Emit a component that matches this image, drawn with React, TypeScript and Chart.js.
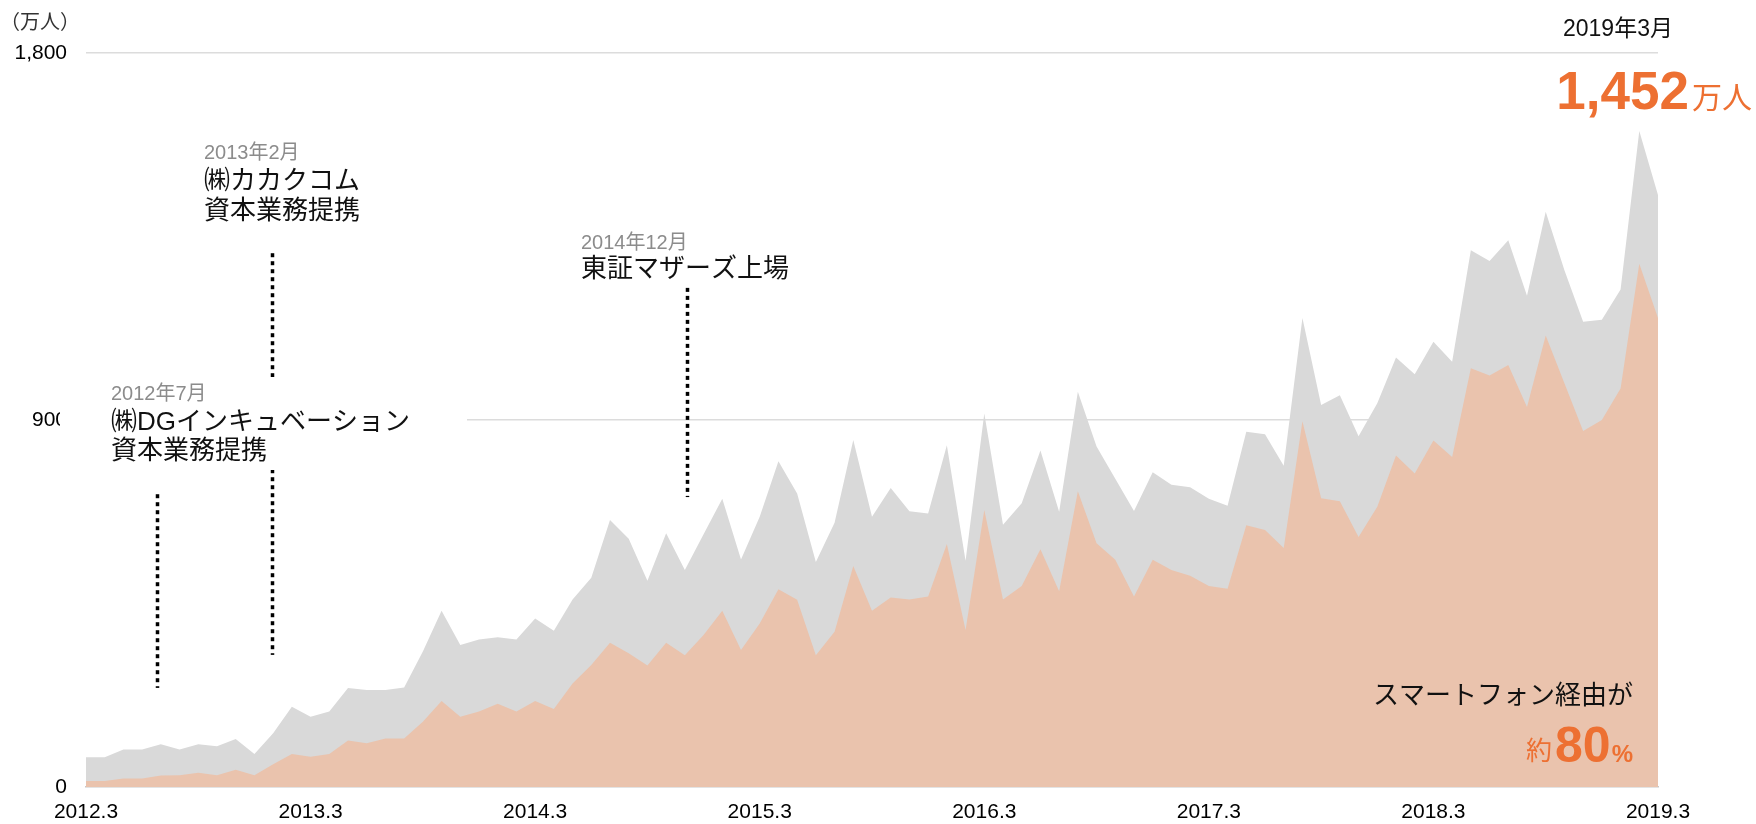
import React, { useEffect, useRef } from "react";
import { Chart, registerables } from "chart.js";

Chart.register(...registerables);

// ---------- data ----------
const FIRST_YEAR = 2012;
const FIRST_MONTH = 3;
const MONTH_COUNT = 85; // 2012.3 .. 2019.3

const months: string[] = [];
for (let i = 0; i < MONTH_COUNT; i++) {
  const m = FIRST_MONTH - 1 + i;
  months.push(`${FIRST_YEAR + Math.floor(m / 12)}.${(m % 12) + 1}`);
}

const tickLabels = ["2012.3", "2013.3", "2014.3", "2015.3", "2016.3", "2017.3", "2018.3", "2019.3"];
const yTicks = [0, 900, 1800];

// total monthly users (万人)
const totalUsers = [
  73, 73, 92, 92, 105, 92, 105, 100, 118, 81, 132, 197,
  172, 185, 243, 238, 238, 244, 332, 432, 348, 362, 367, 362,
  413, 383, 460, 513, 655, 609, 506, 622, 532, 620, 707, 558,
  663, 799, 720, 552, 648, 851, 663, 733, 676, 671, 838, 555,
  916, 643, 696, 825, 675, 969, 835, 756, 677, 772, 741, 735,
  707, 690, 871, 865, 788, 1150, 937, 961, 860, 941, 1053, 1012,
  1092, 1043, 1316, 1290, 1341, 1205, 1411, 1267, 1141, 1146, 1220, 1609,
  1452,
];

// users via smartphone (万人)
const smartphoneUsers = [
  15, 15, 21, 21, 28, 29, 35, 29, 42, 29, 56, 81,
  74, 81, 114, 107, 119, 119, 160, 211, 172, 185, 204, 185,
  211, 191, 254, 299, 354, 328, 298, 354, 323, 373, 432, 336,
  401, 485, 459, 323, 381, 542, 432, 465, 460, 467, 596, 385,
  679, 460, 493, 583, 480, 725, 598, 557, 467, 557, 532, 518,
  493, 486, 642, 630, 586, 897, 708, 701, 613, 687, 813, 769,
  850, 809, 1027, 1009, 1035, 932, 1107, 990, 873, 900, 977, 1283,
  1150,
];

// event markers (month index, value range of the dotted line)
const eventLines = [
  { month: 3.79, from: 243, to: 718 },
  { month: 9.92, from: 324, to: 1309 },
  { month: 32.1, from: 711, to: 1224 },
];

// ---------- styles ----------
const FAMILY = '"Liberation Sans", Arial, "Noto Sans CJK JP", sans-serif';
const ORANGE = "#ed7032";
const GRAY_TEXT = "#8c8c8c";
const BLACK = "#111111";

type Line = { y: number; text: string; size: number; color: string };
const textBlocks: { x: number; lines: Line[] }[] = [
  {
    x: 204,
    lines: [
      { y: 153, text: "2013年2月", size: 20, color: GRAY_TEXT },
      { y: 182, text: "㈱カカクコム", size: 26, color: BLACK },
      { y: 212, text: "資本業務提携", size: 26, color: BLACK },
    ],
  },
  {
    x: 111,
    lines: [
      { y: 394, text: "2012年7月", size: 20, color: GRAY_TEXT },
      { y: 423, text: "㈱DGインキュベーション", size: 26, color: BLACK },
      { y: 452, text: "資本業務提携", size: 26, color: BLACK },
    ],
  },
  {
    x: 581,
    lines: [
      { y: 243, text: "2014年12月", size: 20, color: GRAY_TEXT },
      { y: 270, text: "東証マザーズ上場", size: 26, color: BLACK },
    ],
  },
];

const annotationPlugin = {
  id: "annotations",
  afterDraw(chart: any) {
    const ctx: CanvasRenderingContext2D = chart.ctx;
    const xs = chart.scales.x;
    const ys = chart.scales.y;
    ctx.save();

    // dotted event lines
    ctx.strokeStyle = "#000";
    ctx.lineWidth = 3.5;
    ctx.setLineDash([4, 4]);
    ctx.lineCap = "butt";
    for (const l of eventLines) {
      const x = Math.round(xs.getPixelForValue(l.month)) + 0.5;
      ctx.beginPath();
      ctx.moveTo(x, ys.getPixelForValue(l.to));
      ctx.lineTo(x, ys.getPixelForValue(l.from));
      ctx.stroke();
    }
    ctx.setLineDash([]);

    // white backing of the DG annotation
    ctx.fillStyle = "#ffffff";
    ctx.fillRect(60, 377, 407, 93);

    ctx.textAlign = "left";
    ctx.textBaseline = "middle";
    for (const b of textBlocks) {
      for (const ln of b.lines) {
        ctx.font = `${ln.size}px ${FAMILY}`;
        ctx.fillStyle = ln.color;
        ctx.fillText(ln.text, b.x, ln.y);
      }
    }

    // unit
    ctx.font = `20px ${FAMILY}`;
    ctx.fillStyle = "#333";
    ctx.fillText("（万人）", 0, 23);

    // latest value
    ctx.font = `23px ${FAMILY}`;
    ctx.fillStyle = BLACK;
    ctx.fillText("2019年3月", 1563, 30);

    ctx.textBaseline = "alphabetic";
    ctx.textAlign = "right";
    ctx.font = `30px ${FAMILY}`;
    ctx.fillStyle = ORANGE;
    ctx.fillText("万人", 1752, 108);
    const wUnit = ctx.measureText("万人").width;
    ctx.font = `bold 53px ${FAMILY}`;
    ctx.fillText("1,452", 1752 - wUnit - 3, 109);

    // smartphone share
    ctx.textBaseline = "middle";
    ctx.font = `26px ${FAMILY}`;
    ctx.fillStyle = BLACK;
    ctx.fillText("スマートフォン経由が", 1633, 697);

    ctx.textBaseline = "alphabetic";
    ctx.fillStyle = ORANGE;
    let right = 1633;
    ctx.font = `bold 24px ${FAMILY}`;
    ctx.fillText("%", right, 762);
    right -= ctx.measureText("%").width + 1;
    ctx.font = `bold 50px ${FAMILY}`;
    ctx.fillText("80", right, 762);
    right -= ctx.measureText("80").width + 3;
    ctx.font = `26px ${FAMILY}`;
    ctx.fillText("約", right, 760);

    ctx.restore();
  },
};

export default function App() {
  const ref = useRef<HTMLCanvasElement | null>(null);

  useEffect(() => {
    if (!ref.current) return;
    const chart = new Chart(ref.current, {
      type: "line",
      data: {
        labels: months,
        datasets: [
          {
            label: "スマートフォン経由",
            data: smartphoneUsers,
            backgroundColor: "#eac3ad",
            borderWidth: 0,
            pointRadius: 0,
            fill: "origin",
            tension: 0,
            order: 0,
          },
          {
            label: "合計",
            data: totalUsers,
            backgroundColor: "#d9d9d9",
            borderWidth: 0,
            pointRadius: 0,
            fill: "origin",
            tension: 0,
            order: 1,
          },
        ],
      },
      options: {
        responsive: false,
        maintainAspectRatio: false,
        devicePixelRatio: 1,
        animation: false,
        layout: { padding: { top: 53, right: 98, bottom: 0, left: 0 } },
        plugins: {
          legend: { display: false },
          tooltip: { enabled: false },
        },
        scales: {
          x: {
            type: "category",
            offset: false,
            grid: { display: false, drawTicks: false },
            border: { display: true, color: "#c8c8c8", width: 1.5 },
            ticks: {
              autoSkip: false,
              maxRotation: 0,
              minRotation: 0,
              padding: 13,
              color: "#000",
              font: { family: FAMILY, size: 21 },
              callback: (_v: any, i: number) => (tickLabels.includes(months[i]) ? months[i] : ""),
            },
            afterFit: (s: any) => {
              s.height = 37;
            },
          },
          y: {
            min: 0,
            max: 1800,
            grid: {
              color: (c: any) => (c.tick && c.tick.value === 0 ? "rgba(0,0,0,0)" : "#dcdcdc"),
              lineWidth: 1.5,
              drawTicks: false,
            },
            border: { display: false },
            ticks: {
              padding: 19,
              color: "#000",
              font: { family: FAMILY, size: 21 },
              callback: (v: any) => Number(v).toLocaleString("en-US"),
            },
            afterBuildTicks: (s: any) => {
              s.ticks = yTicks.map((v) => ({ value: v }));
            },
            afterFit: (s: any) => {
              s.width = 86;
            },
          },
        },
      },
      plugins: [annotationPlugin],
    });
    return () => chart.destroy();
  }, []);

  return (
    <div style={{ position: "fixed", left: 0, top: 0, width: 1756, height: 824, background: "#fff" }}>
      <canvas ref={ref} width={1756} height={824} style={{ display: "block" }} />
    </div>
  );
}
